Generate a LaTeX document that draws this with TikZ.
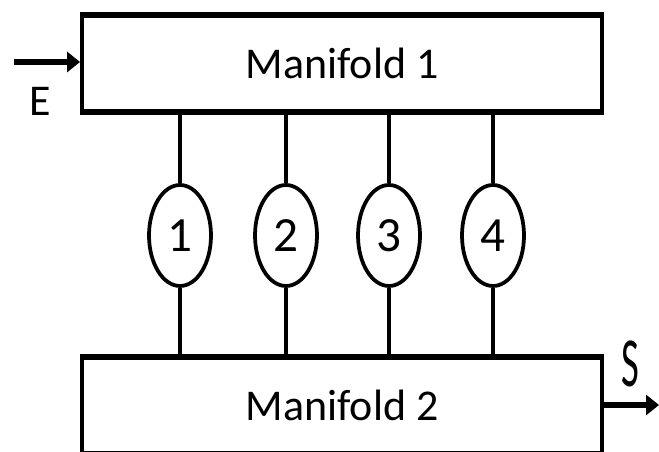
\documentclass[tikz,border=0pt]{standalone}
\usepackage{fontspec}
\setmainfont{Carlito}
\usetikzlibrary{shapes.geometric,arrows.meta,positioning,calc}

\begin{document}
\begin{tikzpicture}[
    x=0.02cm, y=-0.02cm,
    >={Triangle[length=0.26cm,width=0.4cm]},
    manifold/.style={draw, line width=0.07cm, outer sep=0pt, inner sep=0pt,
                     minimum width=10.41cm, minimum height=#1, font=\fontsize{25}{30}\selectfont},
    edgebar/.style={line width=0.12cm, shorten <=-0.035cm, shorten >=-0.035cm},
    module/.style={ellipse, draw, line width=0.075cm, inner sep=0pt,
                   minimum width=1.24cm, minimum height=2.02cm, font=\fontsize{28}{32}\selectfont},
    link/.style={line width=0.07cm},
    flow/.style={->, line width=0.11cm},
    flowlabel/.style={font=\fontsize{25}{30}\selectfont, inner sep=0pt},
]
\useasboundingbox (0,0) rectangle (659,452);

% ============ MANIFOLDS ============
\node[manifold=1.94cm] (m1) at (342,63.5) {Manifold 1};
\node[manifold=1.94cm] (m2) at (342,405.5) {Manifold 2};
\draw[edgebar] (m1.north west) -- (m1.north east);
\draw[edgebar] (m1.south west) -- (m1.south east);
\draw[edgebar] (m2.north west) -- (m2.north east);
\draw[edgebar] (m2.south west) -- (m2.south east);

% ============ MODULES 1--4 ============
\foreach \i/\x in {1/180,2/286,3/389,4/493} {
  \node[module] (c\i) at (\x,235.5) {\i};
  \draw[link] (c\i.north |- m1.south) -- (c\i.north);
  \draw[link] (c\i.south) -- (c\i.south |- m2.north);
}

% ============ INLET / OUTLET ============
\coordinate (ein) at (14,62);
\draw[flow, shorten >=0.035cm] (ein) -- (ein -| m1.west);
\node[flowlabel] (elbl) at (40,101) {E};

\coordinate (sout) at (659,405);
\draw[flow] (m2.east |- sout) -- (sout);
\node[flowlabel, font=\fontsize{40}{44}\selectfont, xscale=0.55] (slbl) at (630,364) {S};

\end{tikzpicture}
\end{document}
